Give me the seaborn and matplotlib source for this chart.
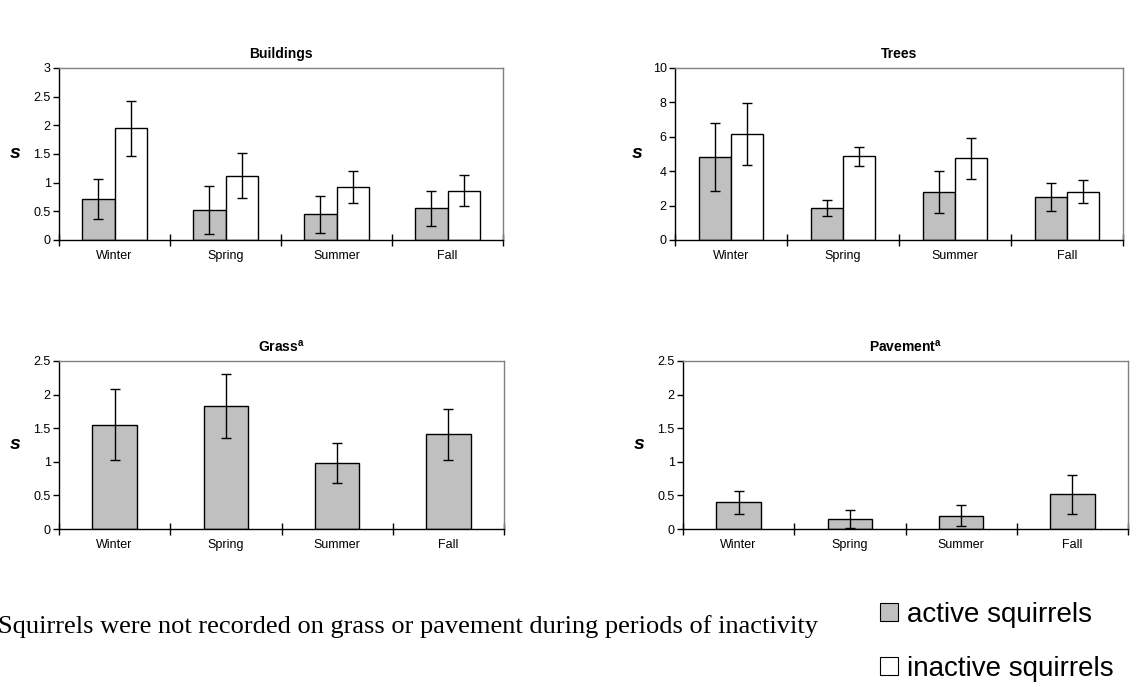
import seaborn as sns
import matplotlib.pyplot as plt
import pandas as pd
import numpy as np
from matplotlib.patches import Patch

# data
seasons = ['Winter', 'Spring', 'Summer', 'Fall']

buildings_active = [0.71, 0.53, 0.45, 0.55]
buildings_active_err = [0.35, 0.42, 0.32, 0.31]
buildings_inactive = [1.95, 1.12, 0.92, 0.86]
buildings_inactive_err = [0.48, 0.39, 0.28, 0.27]

trees_active = [4.83, 1.88, 2.81, 2.50]
trees_active_err = [1.97, 0.46, 1.22, 0.79]
trees_inactive = [6.18, 4.86, 4.75, 2.81]
trees_inactive_err = [1.80, 0.56, 1.18, 0.66]

grass_active = [1.55, 1.83, 0.98, 1.41]
grass_active_err = [0.53, 0.48, 0.30, 0.38]

pavement_active = [0.40, 0.15, 0.20, 0.52]
pavement_active_err = [0.17, 0.13, 0.15, 0.29]

panel_titles = ['Buildings', 'Trees', r'Grass$^{\mathbf{a}}$', r'Pavement$^{\mathbf{a}}$']
ymax = [3, 10, 2.5, 2.5]
ystep = [0.5, 2, 0.5, 0.5]

states = ['active squirrels', 'inactive squirrels']
colors = {'active squirrels': '#C0C0C0', 'inactive squirrels': '#FFFFFF'}
footnote = 'Squirrels were not recorded on grass or pavement during periods of inactivity'

plt.rcParams['font.family'] = ['Liberation Sans', 'DejaVu Sans']
plt.rcParams['mathtext.fontset'] = 'custom'
plt.rcParams['mathtext.bf'] = 'Liberation Sans:bold'


def make_df(active, active_err, inactive=None, inactive_err=None):
    rows = []
    for s, v, e in zip(seasons, active, active_err):
        rows.append({'Season': s, 'State': states[0], 'Value': v, 'Error': e})
    if inactive is not None:
        for s, v, e in zip(seasons, inactive, inactive_err):
            rows.append({'Season': s, 'State': states[1], 'Value': v, 'Error': e})
    return pd.DataFrame(rows)


panels = [
    make_df(buildings_active, buildings_active_err, buildings_inactive, buildings_inactive_err),
    make_df(trees_active, trees_active_err, trees_inactive, trees_inactive_err),
    make_df(grass_active, grass_active_err),
    make_df(pavement_active, pavement_active_err),
]

W, H = 1136, 687
fig = plt.figure(figsize=(W / 100, H / 100), dpi=100)

# axes boxes in pixels: left, right, top, bottom
boxes = [(59, 503, 68, 240), (675, 1123, 68, 240), (59, 504, 361, 529), (683, 1128, 361, 529)]
label_x = [15, 637, 15, 639]

for i, df in enumerate(panels):
    l, r, t, b = boxes[i]
    ax = fig.add_axes([l / W, 1 - b / H, (r - l) / W, (b - t) / H])

    two = df['State'].nunique() > 1
    if two:
        sns.barplot(data=df, x='Season', y='Value', hue='State', order=seasons, hue_order=states,
                    palette=colors, width=0.58, edgecolor='black', linewidth=1,
                    errorbar=None, legend=False, ax=ax)
    else:
        sns.barplot(data=df, x='Season', y='Value', order=seasons, color=colors[states[0]],
                    width=0.4, edgecolor='black', linewidth=1, errorbar=None, ax=ax)

    # error bars on the bar centres (patches come hue by hue, season by season)
    errs = df['Error'].tolist()
    for patch, e in zip(ax.patches, errs):
        xc = patch.get_x() + patch.get_width() / 2
        ax.errorbar(xc, patch.get_height(), yerr=e, color='black', elinewidth=1,
                    capsize=3.3, capthick=1, zorder=5)

    ax.set_xlim(-0.5, 3.5)
    ax.set_ylim(0, ymax[i])
    ax.set_yticks(np.arange(0, ymax[i] + 1e-9, ystep[i]))
    ax.set_yticklabels([f'{v:g}' for v in np.arange(0, ymax[i] + 1e-9, ystep[i])])
    ax.tick_params(axis='y', direction='out', length=4, width=1, labelsize=9, pad=2)

    ax.set_xticks([-0.5, 0.5, 1.5, 2.5, 3.5])
    ax.set_xticklabels([])
    ax.set_xticks([0, 1, 2, 3], minor=True)
    ax.set_xticklabels(seasons, minor=True)
    ax.tick_params(axis='x', which='major', direction='inout', length=8, width=1)
    ax.tick_params(axis='x', which='minor', length=0, labelsize=9, pad=7)
    ax.set_xlabel('')

    ax.set_ylabel('s', fontsize=14, fontweight='bold', fontstyle='italic', rotation=0,
                  ha='center', va='center')
    ax.yaxis.set_label_coords((label_x[i] - l) / (r - l), 0.5)

    ax.set_title(panel_titles[i], fontsize=10, fontweight='bold', pad=7)

    ax.spines['left'].set_color('black')
    ax.spines['bottom'].set_color('black')
    ax.spines['top'].set_color('#808080')
    ax.spines['right'].set_color('#808080')
    for sp in ax.spines.values():
        sp.set_linewidth(1)

fig.text(-2 / W, 1 - 627 / H, footnote, family=['Liberation Serif', 'DejaVu Serif'],
         fontsize=19, ha='left', va='center')

handles = [Patch(facecolor=colors[s], edgecolor='black', linewidth=0.8) for s in states]
fig.legend(handles, states, loc='upper left', bbox_to_anchor=(880 / W, 1 - 602 / H),
           frameon=False, fontsize=20, handlelength=0.63, handleheight=0.63,
           handletextpad=0.35, borderpad=0, borderaxespad=0, labelspacing=1.0)

fig.savefig('out.png', dpi=100)
